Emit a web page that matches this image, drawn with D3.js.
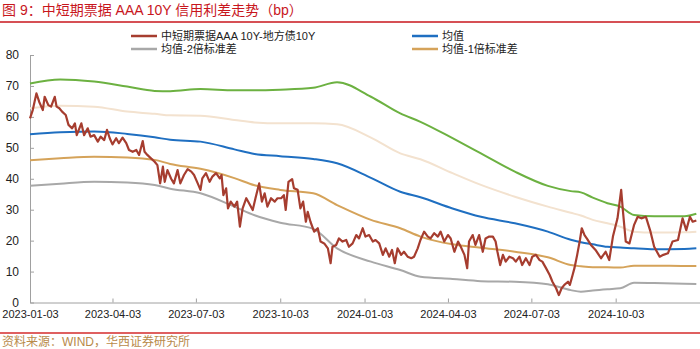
<!DOCTYPE html>
<html><head><meta charset="utf-8">
<script src="https://cdn.jsdelivr.net/npm/d3@7"></script>
<style>
html,body{margin:0;padding:0;background:#fff;}
svg{display:block;}
</style></head>
<body>
<svg id="chart" width="700" height="349"></svg>
<script>
// ---------- DATA ----------
const titleText = "图 9：中短期票据 AAA 10Y 信用利差走势（bp）";
const sourceText = "资料来源：WIND，华西证券研究所";
const seriesNames = ["中短期票据AAA 10Y-地方债10Y", "均值", "均值-2倍标准差", "均值-1倍标准差"];
const xTickLabels = ["2023-01-03","2023-04-03","2023-07-03","2023-10-03","2024-01-03","2024-04-03","2024-07-03","2024-10-03"];
const yTicks = [0,10,20,30,40,50,60,70,80];

const spreadDates = ["2023-01-03","2023-01-06","2023-01-10","2023-01-13","2023-01-17","2023-01-19","2023-01-23","2023-01-26","2023-01-30","2023-02-01",
"2023-02-04","2023-02-07","2023-02-11","2023-02-14","2023-02-18","2023-02-21","2023-02-23","2023-02-28","2023-03-03","2023-03-07",
"2023-03-10","2023-03-14","2023-03-18","2023-03-21","2023-03-25","2023-03-28","2023-03-31","2023-04-03","2023-04-07","2023-04-10",
"2023-04-14","2023-04-18","2023-04-21","2023-04-25","2023-04-29","2023-05-02","2023-05-06","2023-05-08","2023-05-11","2023-05-15",
"2023-05-19","2023-05-22","2023-05-25","2023-05-28","2023-05-30","2023-06-02","2023-06-06","2023-06-09","2023-06-13","2023-06-16",
"2023-06-20","2023-06-24","2023-06-28","2023-07-01","2023-07-05","2023-07-08","2023-07-10","2023-07-14","2023-07-18","2023-07-21",
"2023-07-25","2023-07-29","2023-07-31","2023-08-02","2023-08-05","2023-08-07","2023-08-10","2023-08-14","2023-08-17","2023-08-20",
"2023-08-23","2023-08-27","2023-08-30","2023-09-03","2023-09-06","2023-09-10","2023-09-13","2023-09-16","2023-09-19","2023-09-23",
"2023-09-27","2023-09-30","2023-10-04","2023-10-07","2023-10-09","2023-10-12","2023-10-16","2023-10-18","2023-10-22","2023-10-25",
"2023-10-28","2023-10-31","2023-11-02","2023-11-05","2023-11-09","2023-11-13","2023-11-16","2023-11-20","2023-11-24","2023-11-27",
"2023-11-29","2023-12-03","2023-12-06","2023-12-10","2023-12-14","2023-12-17","2023-12-21","2023-12-25","2023-12-28","2024-01-01",
"2024-01-04","2024-01-08","2024-01-12","2024-01-15","2024-01-19","2024-01-23","2024-01-26","2024-01-30","2024-02-02","2024-02-05",
"2024-02-08","2024-02-12","2024-02-15","2024-02-19","2024-02-23","2024-02-26","2024-03-01","2024-03-04","2024-03-08","2024-03-12",
"2024-03-15","2024-03-19","2024-03-23","2024-03-26","2024-03-30","2024-04-03","2024-04-06","2024-04-10","2024-04-14","2024-04-17",
"2024-04-21","2024-04-24","2024-04-26","2024-04-30","2024-05-03","2024-05-07","2024-05-11","2024-05-14","2024-05-18","2024-05-22",
"2024-05-25","2024-05-27","2024-05-30","2024-06-02","2024-06-05","2024-06-09","2024-06-13","2024-06-16","2024-06-20","2024-06-23",
"2024-06-27","2024-07-01","2024-07-04","2024-07-08","2024-07-12","2024-07-15","2024-07-19","2024-07-23","2024-07-26","2024-07-30",
"2024-08-02","2024-08-05","2024-08-08","2024-08-12","2024-08-14","2024-08-17","2024-08-19","2024-08-22","2024-08-25","2024-08-27",
"2024-08-30","2024-09-02","2024-09-06","2024-09-11","2024-09-17","2024-09-22","2024-09-26","2024-09-30","2024-10-05","2024-10-09",
"2024-10-11","2024-10-14","2024-10-18","2024-10-23","2024-10-27","2024-10-31","2024-11-05","2024-11-10","2024-11-14","2024-11-20",
"2024-11-24","2024-11-29","2024-12-04","2024-12-10","2024-12-15","2024-12-19","2024-12-23","2024-12-26","2024-12-30"];
const spreadValues = [59.5,62.2,67.6,64.9,62.2,66.5,63.8,63.3,66.5,63.3,
62.8,61.7,60.6,57.4,56.3,57.9,54.1,57.9,54.1,56.3,
53.6,54.1,52.0,53.6,52.5,55.8,53.1,51.1,53.1,51.5,
53.3,51.5,49.3,48.7,49.3,47.7,52.2,48.7,47.7,46.6,
45.5,44.4,38.5,43.9,39.0,42.8,40.0,38.5,42.8,38.5,
41.2,43.1,42.3,41.2,38.5,36.4,40.1,41.8,39.0,40.7,
41.8,40.1,41.2,34.7,36.9,30.4,32.6,31.0,32.6,24.5,
30.4,33.7,32.1,29.9,33.7,38.5,32.6,35.3,31.0,33.7,
32.6,33.7,33.7,34.7,29.9,39.0,39.9,36.9,36.4,30.4,
32.6,26.1,29.3,26.1,22.9,24.0,19.7,19.1,17.5,12.7,
18.0,18.6,20.7,19.7,20.2,18.0,19.1,21.8,20.7,24.0,
21.3,21.8,19.7,20.2,19.1,15.4,17.5,14.8,17.0,12.7,
17.5,15.4,16.4,14.8,14.3,14.8,17.5,20.2,22.9,21.3,
20.7,22.4,21.3,22.9,19.7,21.8,20.7,16.4,19.7,18.0,
15.4,11.1,19.7,21.8,18.6,21.8,16.4,20.7,21.3,21.3,
19.7,16.4,12.1,15.4,13.2,14.8,14.3,13.2,14.8,12.1,
14.3,12.1,14.8,15.4,13.7,13.2,11.1,8.9,6.7,4.6,
2.4,4.6,5.7,6.7,5.7,8.9,11.1,15.4,20.2,24.0,
21.8,20.5,18.6,17.0,14.3,16.4,13.7,21.3,27.2,36.4,
29.3,19.7,19.1,25.0,27.7,27.2,27.7,22.9,18.0,14.8,
15.4,15.9,19.7,20.2,27.2,23.4,27.7,26.1,26.5];

const bandDates = ["2023-01-03","2023-02-05","2023-03-14","2023-04-19","2023-05-19","2023-06-05","2023-07-08","2023-08-14","2023-09-05","2023-10-03",
"2023-11-08","2023-12-04","2024-01-10","2024-02-11","2024-03-04","2024-04-08","2024-05-09","2024-06-15","2024-07-21","2024-08-15",
"2024-08-26","2024-09-08","2024-09-24","2024-10-08","2024-10-23","2024-11-14","2024-12-17","2024-12-30"];
const meanValues   = [54.4,55.0,55.3,54.5,53.4,52.6,52.0,49.5,48.0,47.3,46.4,45.0,40.3,35.8,34.0,30.4,27.7,25.6,22.9,20.3,19.5,18.8,18.0,17.8,17.5,17.2,17.3,17.5];
const plus2Values  = [70.8,72.1,71.4,69.8,68.4,68.3,69.0,68.6,68.6,68.8,69.4,71.2,66.5,61.1,58.4,53.1,48.2,42.3,37.7,36.0,35.6,33.9,32.1,31.0,28.3,27.9,27.9,28.7];
const plus1Values  = [62.8,63.6,63.3,61.7,61.0,60.5,60.4,59.0,58.2,57.9,57.9,57.6,53.3,48.2,46.3,41.8,38.0,34.2,31.0,29.0,28.1,26.7,25.6,24.5,22.9,22.6,22.7,22.9];
const minus1Values = [46.0,46.6,47.1,46.9,46.1,44.8,43.2,40.2,37.9,36.4,35.3,31.5,26.7,24.0,21.3,18.8,17.7,16.4,14.6,12.1,11.7,11.4,11.4,11.3,11.9,11.9,11.8,11.8];
const minus2Values = [37.7,38.4,39.0,38.8,38.0,36.8,35.3,31.0,28.2,25.8,23.8,17.5,13.2,10.5,8.3,7.6,6.9,6.7,5.9,4.0,3.5,3.9,4.3,4.6,6.4,6.3,6.1,6.0];

// ---------- CHART ----------
const parse = d3.timeParse("%Y-%m-%d");
const svg = d3.select("#chart");
const W = 700, H = 349;
const plot = {left: 30, right: 700, top: 55, bottom: 302.5};

const x = d3.scaleTime().domain([parse("2023-01-03"), parse("2025-01-03")]).range([plot.left, plot.right]);
const y = d3.scaleLinear().domain([0, 80]).range([plot.bottom, plot.top]);

const colors = {spread:"#a63d2f", mean:"#1f6fc1", plus2:"#6cb141", plus1:"#f3e2cf", minus1:"#d5a35a", minus2:"#a8a8a8"};
const mixFont = "'Liberation Sans',Arial,'Noto Sans CJK SC',sans-serif";
const numFont = "'Liberation Sans',Arial,sans-serif";

// Title
svg.append("text").attr("x", 2).attr("y", 15)
  .attr("font-family", mixFont).attr("font-size", 14).attr("fill", "#c8161d")
  .text(titleText);
svg.append("line").attr("x1",0).attr("x2",W).attr("y1",22).attr("y2",22)
  .attr("stroke","#c8161d").attr("stroke-width",1.5);

// Bottom line + source
svg.append("line").attr("x1",0).attr("x2",W).attr("y1",333).attr("y2",333)
  .attr("stroke","#d52b2b").attr("stroke-width",1.5);
svg.append("text").attr("x", 2).attr("y", 346)
  .attr("font-family", mixFont).attr("font-size", 12).attr("fill", "#b88a4a")
  .text(sourceText);

// Axes
const yAxis = d3.axisLeft(y).tickValues(yTicks).tickSizeInner(-4).tickSizeOuter(0).tickPadding(11);
const gy = svg.append("g").attr("transform", `translate(${plot.left},0)`).call(yAxis);
gy.selectAll("text").attr("font-family", numFont).attr("font-size", 12).attr("fill", "#222");
gy.selectAll("line, path").attr("stroke", "#a0a0a0");

const xAxis = d3.axisBottom(x).tickValues(xTickLabels.map(parse)).tickFormat(d3.timeFormat("%Y-%m-%d"))
  .tickSizeInner(-4).tickSizeOuter(0).tickPadding(8);
const gx = svg.append("g").attr("transform", `translate(0,${plot.bottom})`).call(xAxis);
gx.selectAll("text").attr("font-family", numFont).attr("font-size", 11).attr("fill", "#222");
gx.selectAll("line, path").attr("stroke", "#a0a0a0");

// Lines
function bandLine(vals){
  return d3.line().x((d,i)=>x(parse(bandDates[i]))).y((d)=>y(d)).curve(d3.curveMonotoneX)(vals);
}
const bands = [
  {vals: plus1Values, color: colors.plus1},
  {vals: plus2Values, color: colors.plus2},
  {vals: minus2Values, color: colors.minus2},
  {vals: minus1Values, color: colors.minus1},
  {vals: meanValues, color: colors.mean}
];
bands.forEach(b => {
  svg.append("path").attr("d", bandLine(b.vals)).attr("fill","none")
    .attr("stroke", b.color).attr("stroke-width", 2).attr("stroke-linejoin","round");
});

const spreadLine = d3.line().x((d,i)=>x(parse(spreadDates[i]))).y(d=>y(d));
svg.append("path").attr("d", spreadLine(spreadValues)).attr("fill","none")
  .attr("stroke", colors.spread).attr("stroke-width", 2.2).attr("stroke-linejoin","round");

// Legend
const legendItems = [
  {name: seriesNames[0], color: colors.spread, lx: 131, ly: 36},
  {name: seriesNames[1], color: colors.mean, lx: 412, ly: 36},
  {name: seriesNames[2], color: colors.minus2, lx: 131, ly: 49},
  {name: seriesNames[3], color: colors.minus1, lx: 412, ly: 49}
];
legendItems.forEach(it => {
  svg.append("line").attr("x1", it.lx).attr("x2", it.lx+26).attr("y1", it.ly).attr("y2", it.ly)
    .attr("stroke", it.color).attr("stroke-width", 2.5);
  svg.append("text").attr("x", it.lx+30).attr("y", it.ly+4)
    .attr("font-family", mixFont).attr("font-size", 11).attr("fill", "#222")
    .text(it.name);
});
</script>
</body></html>
